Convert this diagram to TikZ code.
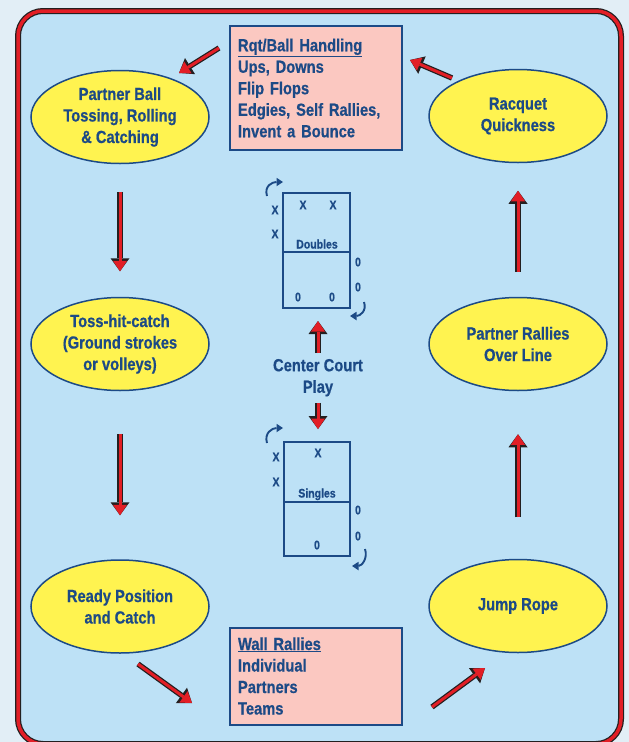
\documentclass[tikz,border=0pt]{standalone}
\usepackage{fontspec}
\setmainfont{Liberation Sans}[FakeStretch=0.84,BoldFeatures={FakeBold=0.6}]
\usetikzlibrary{shapes.geometric,arrows.meta}
\definecolor{ink}{HTML}{1C4A86}
\definecolor{lemon}{HTML}{FFF350}
\definecolor{blush}{HTML}{FBC8C1}
\definecolor{sky}{HTML}{BDE1F6}
\definecolor{haze}{HTML}{E2EEF6}
\definecolor{flowred}{HTML}{E21E26}
\definecolor{soot}{HTML}{231F20}
\tikzset{
  drill/.style={ellipse, draw=ink, line width=1.5pt, fill=lemon,
    minimum width=178pt, minimum height=93pt, inner sep=0pt,
    align=center, text=ink, font=\fontsize{17.5pt}{21.5pt}\selectfont\bfseries},
  listbox/.style={rectangle, draw=ink, line width=2pt, fill=blush,
    text width=156pt, inner xsep=8pt, inner ysep=0pt, align=left,
    text=ink, font=\fontsize{17.5pt}{21.5pt}\selectfont\bfseries},
  flow/.style={preaction={draw=soot, line width=5.5pt,
      -{Triangle[length=13pt,width=19pt,line width=0pt]}},
    draw=flowred, line width=3pt,
    -{Triangle[length=10.5pt,width=14pt,line width=0pt]}},
  court/.style={rectangle, draw=ink, line width=2pt, inner sep=0pt},
  player/.style={text=ink, inner sep=0pt, text depth=0pt,
    font=\fontsize{12.5pt}{14pt}\selectfont\bfseries},
  turn/.style={draw=ink, line width=1.9pt,
    -{Triangle[length=6.5pt,width=8.5pt,line width=0pt]}}
}
\begin{document}
\begin{tikzpicture}[x=1pt,y=-1pt]
  \useasboundingbox (0,0) rectangle (629,742);
  % frame
  \fill[haze] (0,0) rectangle (629,742);
  \draw[soot, line width=6pt, fill=sky, rounded corners=25pt] (18,11) rectangle (621,744);
  \draw[flowred, line width=3.5pt, rounded corners=25pt] (18,11) rectangle (621,744);

  % stations
  \node[listbox, minimum height=124pt] (handling) at (316,88)
    {\underline{Rqt/Ball Handling}\\Ups, Downs\\Flip Flops\\Edgies, Self Rallies,\\Invent a Bounce};
  \node[drill] (pball) at (120,117) {Partner Ball\\Tossing, Rolling\\\& Catching};
  \node[drill] (quick) at (518,116) {Racquet\\Quickness};
  \node[drill] (toss) at (120,344) {Toss-hit-catch\\(Ground strokes\\or volleys)};
  \node[drill] (ovline) at (518,344) {Partner Rallies\\Over Line};
  \node[drill] (ready) at (120,606.5) {Ready Position\\and Catch};
  \node[drill] (jump) at (518,606) {Jump Rope};
  \node[listbox, minimum height=97pt] (wall) at (316,676)
    {\underline{Wall Rallies}\\Individual\\Partners\\Teams};
  \node[align=center, inner sep=0pt, text=ink,
    font=\fontsize{17.5pt}{21.5pt}\selectfont\bfseries] (ccp) at (318,377.7) {Center Court\\Play};

  % courts
  \node[court, minimum width=67pt, minimum height=115pt] (dbl) at (316.5,250.5) {};
  \draw[court] ([yshift=-1.5pt]dbl.west) -- ([yshift=-1.5pt]dbl.east);
  \node[court, minimum width=66pt, minimum height=114pt] (sgl) at (317,499) {};
  \draw[court] ([yshift=-3pt]sgl.west) -- ([yshift=-3pt]sgl.east);

  \node[player] (dx1) at (303,205) {X};
  \node[player] (dx2) at (333,205) {X};
  \node[player] (dx3) at (275,210) {X};
  \node[player] (dx4) at (275,234) {X};
  \node[player] (dlbl) at (317,244) {Doubles};
  \node[player] (do1) at (358,262) {0};
  \node[player] (do2) at (358,287) {0};
  \node[player] (do3) at (298,297) {0};
  \node[player] (do4) at (332,297) {0};

  \node[player] (sx1) at (318,453) {X};
  \node[player] (sx2) at (276,457) {X};
  \node[player] (sx3) at (276,482) {X};
  \node[player] (slbl) at (317,493) {Singles};
  \node[player] (so1) at (358,510) {0};
  \node[player] (so2) at (358,536) {0};
  \node[player] (so3) at (317,545) {0};

  \draw[turn] (dbl.north west) ++(-15,4) .. controls +(-3,-10) and +(-11,0) .. ++(16,-14);
  \draw[turn] (dbl.south east) ++(13,-7) .. controls +(3,9) and +(10,0) .. ++(-14,14);
  \draw[turn] (sgl.north west) ++(-16,2) .. controls +(-3,-10) and +(-11,0) .. ++(16,-15);
  \draw[turn] (sgl.south east) ++(14,-8) .. controls +(3,9) and +(10,0) .. ++(-13,17);

  % flow arrows
  \coordinate (hs) at (219,48);
  \coordinate (he) at (179,73);
  \coordinate (qs) at (452,78);
  \coordinate (qe) at (410,60);
  \coordinate (rs) at (138,664);
  \coordinate (re) at (192,703);
  \coordinate (ws) at (432,707);
  \coordinate (we) at (485,668);
  \draw[flow] (hs) -- (he);
  \draw[flow] (qs) -- (qe);
  \draw[flow] (rs) -- (re);
  \draw[flow] (ws) -- (we);
  \draw[flow, shorten <=27.5pt, shorten >=25.5pt] (pball.south) -- (toss.north);
  \draw[flow, shorten <=42.5pt, shorten >=44pt] (toss.south) -- (ready.north);
  \draw[flow, shorten <=41.5pt, shorten >=43pt] (jump.north) -- (ovline.south);
  \draw[flow, shorten <=25pt, shorten >=27.5pt] (ovline.north) -- (quick.south);
  \draw[flow, shorten <=5.7pt, shorten >=12pt] (ccp.north) -- (ccp.north |- dbl.south);
  \draw[flow, shorten <=6.3pt, shorten >=12pt] (ccp.south) -- (ccp.south |- sgl.north);
\end{tikzpicture}
\end{document}
